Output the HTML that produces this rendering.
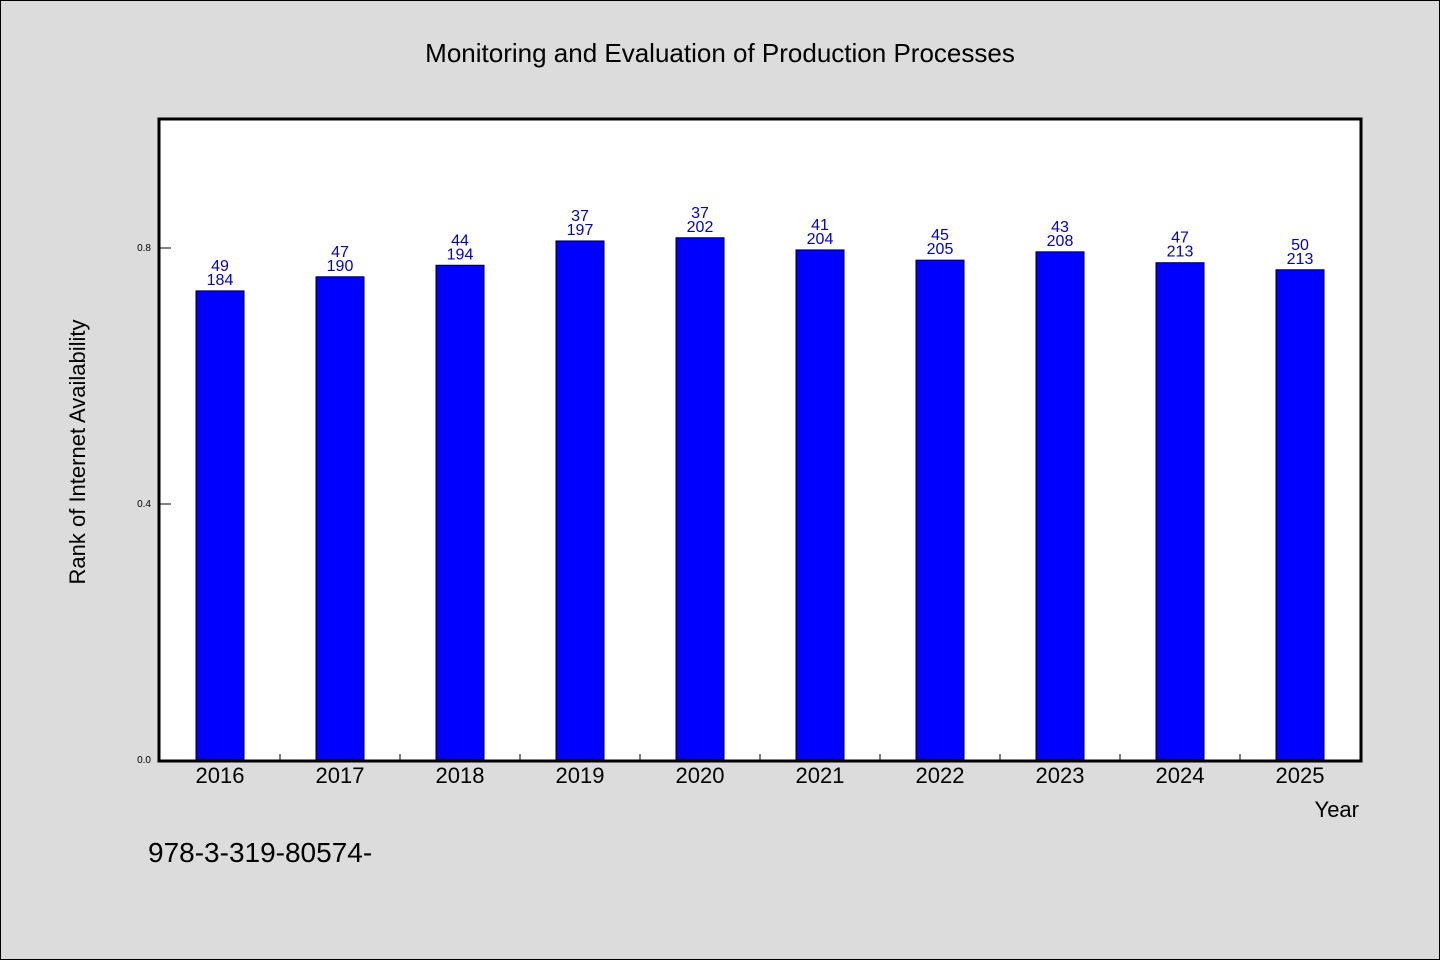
<!DOCTYPE html>
<html><head><meta charset="utf-8"><style>
body{margin:0;background:#dcdcdc;}
svg{display:block;font-family:"WenQuanYi Zen Hei","Liberation Sans",sans-serif;}
</style></head><body>
<svg id="c" width="1440" height="960">
<rect x="0.5" y="0.5" width="1439" height="959" fill="#dcdcdc" stroke="#000"/>
<text x="720" y="62" font-size="26" text-anchor="middle">Monitoring and Evaluation of Production Processes</text>
<rect x="159" y="119" width="1202" height="642" fill="#fff"/>
<g id="marks"></g>
<rect x="159" y="119" width="1202" height="642" fill="none" stroke="#000" stroke-width="3"/>
<text transform="translate(85,452) rotate(-90)" font-size="22" text-anchor="middle">Rank of Internet Availability</text>
<text x="1359" y="817" font-size="22" text-anchor="end">Year</text>
<text x="148" y="862" font-size="28">978-3-319-80574-</text>
</svg>
<script>
const categories=["2016","2017","2018","2019","2020","2021","2022","2023","2024","2025"];
const values=[0.733,0.755,0.773,0.811,0.816,0.797,0.781,0.794,0.777,0.766];
const labelTop=["49","47","44","37","37","41","45","43","47","50"];
const labelBottom=["184","190","194","197","202","204","205","208","213","213"];
const yTicks=[0.0,0.4,0.8];
const yTickLabels=["0.0","0.4","0.8"];
const NS="http://www.w3.org/2000/svg";
const g=document.getElementById('marks');
const x0=159,x1=1361,yb=760;
const step=(x1-x0-2)/categories.length;
const xs=i=>x0+1+step*(i+0.5);
const ys=v=>yb-v*640;
function mk(t,a,txt){const e=document.createElementNS(NS,t);for(const k in a)e.setAttribute(k,a[k]);if(txt!==undefined)e.textContent=txt;g.appendChild(e);return e;}
yTicks.forEach((v,i)=>{
 const l=mk('line',{x1:x0,x2:x0+12,y1:ys(v),y2:ys(v),stroke:'#000'});
 
 
 const t=mk('text',{x:x0-8,y:ys(v)+3,'font-size':10,'text-anchor':'end'},yTickLabels[i]);
 
 
});
categories.forEach((c,i)=>{
 const cx=xs(i),top=ys(values[i]);
 const r=mk('rect',{x:cx-24,y:top,width:48,height:yb-top,fill:'#0000ff',stroke:'#000','stroke-width':1});
 
 
 const a=mk('text',{x:cx,y:top-20,'font-size':16,fill:'#0000cc','text-anchor':'middle'},labelTop[i]);
 
 
 const b=mk('text',{x:cx,y:top-6,'font-size':16,fill:'#0000cc','text-anchor':'middle'},labelBottom[i]);
 
 
 const t=mk('text',{x:cx,y:783,'font-size':22,'text-anchor':'middle'},c);
 
 
 if(i>0){const tk=mk('line',{x1:cx-step/2,x2:cx-step/2,y1:yb,y2:yb-6,stroke:'#000'});
 
 }
});
</script>
</body></html>
